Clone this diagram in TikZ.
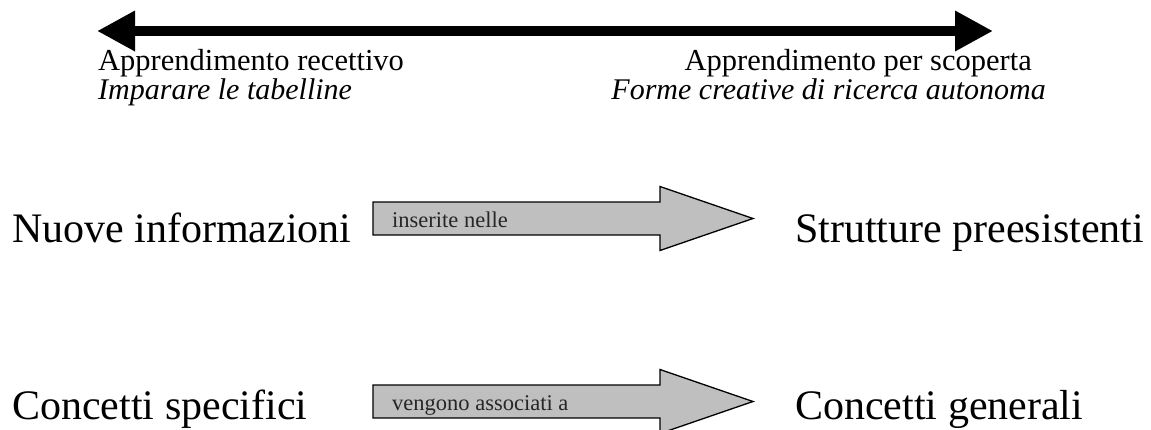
\documentclass[tikz,border=0pt]{standalone}
\usepackage{fontspec}
\setmainfont{Liberation Serif}
\usetikzlibrary{arrows.meta}
\tikzset{
  bigtext/.style={inner sep=0pt, font=\fontsize{42}{50}\selectfont},
  toptext/.style={inner sep=0pt, font=\fontsize{30.5}{36}\selectfont},
  topital/.style={inner sep=0pt, font=\fontsize{30}{36}\selectfont\itshape},
  smalltext/.style={inner sep=0pt, text=black!85, font=\fontsize{22.5}{27}\selectfont},
  blockarrow/.style={draw=black, line width=1.3pt, fill=black!25, line join=miter},
  bigarrow/.style={line width=10pt, {Triangle[length=38pt,width=38pt]}-{Triangle[length=38pt,width=38pt]}}
}
\begin{document}
\begin{tikzpicture}[x=1pt,y=-1pt]
\useasboundingbox (0,0) rectangle (1151,429);
% top double arrow
\coordinate (L) at (97,31);
\coordinate (R) at (993,31);
\draw[bigarrow] (L) -- (R);
\node[toptext, anchor=base west] (t1) at (98,70) {Apprendimento recettivo};
\node[topital, anchor=base west] (t2) at (98,99) {Imparare le tabelline};
\node[toptext, anchor=base east] (t3) at (1032,70) {Apprendimento per scoperta};
\node[topital, anchor=base east] (t4) at (1046,99) {Forme creative di ricerca autonoma};
% row 1
\node[bigtext, anchor=base west] (n1) at (12,242) {Nuove informazioni};
\node[bigtext, anchor=base west] (n2) at (795,242) {Strutture preesistenti};
\coordinate (a1) at (373,218.5);
\draw[blockarrow, shift={(a1)}] (0,-16.5) -- (287,-16.5) -- (287,-32) -- (380,0) -- (287,32) -- (287,16.5) -- (0,16.5) -- cycle;
\node[smalltext, anchor=base west] (s1) at (392,227) {inserite nelle};
% row 2
\node[bigtext, anchor=base west] (n3) at (12,419) {Concetti specifici};
\node[bigtext, anchor=base west] (n4) at (795,419) {Concetti generali};
\coordinate (a2) at (373,401.5);
\draw[blockarrow, shift={(a2)}] (0,-16.5) -- (287,-16.5) -- (287,-32) -- (380,0) -- (287,32) -- (287,16.5) -- (0,16.5) -- cycle;
\node[smalltext, anchor=base west] (s2) at (392,410) {vengono associati a};
\end{tikzpicture}
\end{document}
